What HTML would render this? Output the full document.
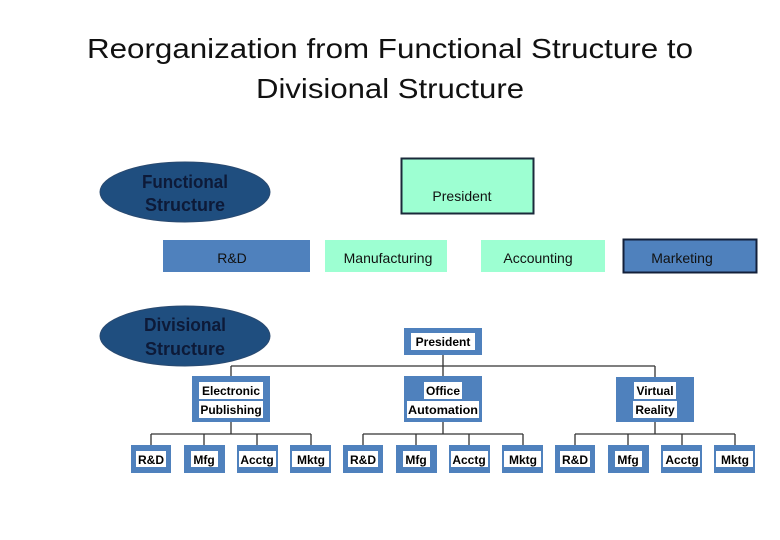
<!DOCTYPE html>
<html><head><meta charset="utf-8"><style>
html,body{margin:0;padding:0;background:#fff;width:780px;height:540px;overflow:hidden}
</style></head><body>
<svg width="780" height="540" viewBox="0 0 780 540" xmlns="http://www.w3.org/2000/svg">
<g font-family="Liberation Sans, sans-serif">
<text x="390" y="58" font-size="28" text-anchor="middle" textLength="606" lengthAdjust="spacingAndGlyphs" fill="#111">Reorganization from Functional Structure to</text>
<text x="390" y="98" font-size="28" text-anchor="middle" textLength="268" lengthAdjust="spacingAndGlyphs" fill="#111">Divisional Structure</text>

<!-- Functional -->
<ellipse cx="185" cy="192" rx="85" ry="30" fill="#1f4e7f" stroke="#2a4a70"/>
<text x="185" y="188" font-size="18" font-weight="bold" text-anchor="middle" fill="#0d1a38" textLength="86" lengthAdjust="spacingAndGlyphs">Functional</text>
<text x="185" y="211" font-size="18" font-weight="bold" text-anchor="middle" fill="#0d1a38" textLength="80" lengthAdjust="spacingAndGlyphs">Structure</text>
<rect x="401.5" y="158.5" width="132" height="55" fill="#9dffd2" stroke="#1a2a3a" stroke-width="2"/>
<text x="462" y="201" font-size="14" text-anchor="middle" fill="#111">President</text>

<rect x="163" y="240" width="147" height="32" fill="#4f81bd"/>
<text x="232" y="263" font-size="14" text-anchor="middle" fill="#111">R&amp;D</text>
<rect x="325" y="240" width="122" height="32" fill="#9dffd2"/>
<text x="388" y="263" font-size="14" text-anchor="middle" fill="#111">Manufacturing</text>
<rect x="481" y="240" width="124" height="32" fill="#9dffd2"/>
<text x="538" y="263" font-size="14" text-anchor="middle" fill="#111">Accounting</text>
<rect x="623.5" y="239.5" width="133" height="33" fill="#4f81bd" stroke="#13203a" stroke-width="2"/>
<text x="682" y="263" font-size="14" text-anchor="middle" fill="#111">Marketing</text>

<!-- Divisional -->
<ellipse cx="185" cy="336" rx="85" ry="30" fill="#1f4e7f" stroke="#2a4a70"/>
<text x="185" y="331" font-size="18" font-weight="bold" text-anchor="middle" fill="#0d1a38" textLength="82" lengthAdjust="spacingAndGlyphs">Divisional</text>
<text x="185" y="355" font-size="18" font-weight="bold" text-anchor="middle" fill="#0d1a38" textLength="80" lengthAdjust="spacingAndGlyphs">Structure</text>

<g stroke="#333" stroke-width="1.3" fill="none">
<line x1="443" y1="355" x2="443" y2="377"/>
<line x1="231" y1="366" x2="655" y2="366"/>
<line x1="231" y1="366" x2="231" y2="377"/>
<line x1="655" y1="366" x2="655" y2="377"/>
<line x1="231" y1="422" x2="231" y2="434"/>
<line x1="443" y1="422" x2="443" y2="434"/>
<line x1="655" y1="422" x2="655" y2="434"/>
<line x1="151" y1="434" x2="311" y2="434"/>
<line x1="363" y1="434" x2="523" y2="434"/>
<line x1="575" y1="434" x2="735" y2="434"/>
<line x1="151" y1="434" x2="151" y2="445"/><line x1="204" y1="434" x2="204" y2="445"/><line x1="257" y1="434" x2="257" y2="445"/><line x1="311" y1="434" x2="311" y2="445"/>
<line x1="363" y1="434" x2="363" y2="445"/><line x1="416" y1="434" x2="416" y2="445"/><line x1="469" y1="434" x2="469" y2="445"/><line x1="523" y1="434" x2="523" y2="445"/>
<line x1="575" y1="434" x2="575" y2="445"/><line x1="628" y1="434" x2="628" y2="445"/><line x1="682" y1="434" x2="682" y2="445"/><line x1="735" y1="434" x2="735" y2="445"/>
</g>

<g font-size="12" font-weight="bold" text-anchor="middle" fill="#000">
<rect x="404" y="328" width="78" height="27" fill="#4f81bd"/>
<rect x="411" y="333" width="64" height="17" fill="#fff"/>
<text x="443" y="346">President</text>

<rect x="192" y="376" width="78" height="46" fill="#4f81bd"/>
<rect x="199" y="382" width="64" height="17" fill="#fff"/><rect x="199" y="401" width="64" height="17" fill="#fff"/>
<text x="231" y="395">Electronic</text><text x="231" y="414">Publishing</text>

<rect x="404" y="376" width="78" height="46" fill="#4f81bd"/>
<rect x="424" y="382" width="38" height="17" fill="#fff"/><rect x="407" y="401" width="72" height="17" fill="#fff"/>
<text x="443" y="395">Office</text><text x="443" y="414" textLength="70" lengthAdjust="spacingAndGlyphs">Automation</text>

<rect x="616" y="377" width="78" height="45" fill="#4f81bd"/>
<rect x="634" y="382" width="42" height="17" fill="#fff"/><rect x="633" y="401" width="44" height="17" fill="#fff"/>
<text x="655" y="395">Virtual</text><text x="655" y="414">Reality</text>
</g>

<g font-size="12" font-weight="bold" text-anchor="middle" fill="#000">
<!-- sub boxes -->
<rect x="131" y="445" width="40" height="28" fill="#4f81bd"/><rect x="136" y="451" width="30" height="16" fill="#fff"/><text x="151" y="464">R&amp;D</text>
<rect x="184" y="445" width="41" height="28" fill="#4f81bd"/><rect x="191" y="451" width="27" height="16" fill="#fff"/><text x="204" y="464">Mfg</text>
<rect x="237" y="445" width="41" height="28" fill="#4f81bd"/><rect x="239" y="451" width="37" height="16" fill="#fff"/><text x="257" y="464">Acctg</text>
<rect x="290" y="445" width="41" height="28" fill="#4f81bd"/><rect x="292" y="451" width="37" height="16" fill="#fff"/><text x="311" y="464">Mktg</text>

<rect x="343" y="445" width="40" height="28" fill="#4f81bd"/><rect x="348" y="451" width="30" height="16" fill="#fff"/><text x="363" y="464">R&amp;D</text>
<rect x="396" y="445" width="41" height="28" fill="#4f81bd"/><rect x="403" y="451" width="27" height="16" fill="#fff"/><text x="416" y="464">Mfg</text>
<rect x="449" y="445" width="41" height="28" fill="#4f81bd"/><rect x="451" y="451" width="37" height="16" fill="#fff"/><text x="469" y="464">Acctg</text>
<rect x="502" y="445" width="41" height="28" fill="#4f81bd"/><rect x="504" y="451" width="37" height="16" fill="#fff"/><text x="523" y="464">Mktg</text>

<rect x="555" y="445" width="40" height="28" fill="#4f81bd"/><rect x="560" y="451" width="30" height="16" fill="#fff"/><text x="575" y="464">R&amp;D</text>
<rect x="608" y="445" width="41" height="28" fill="#4f81bd"/><rect x="615" y="451" width="27" height="16" fill="#fff"/><text x="628" y="464">Mfg</text>
<rect x="661" y="445" width="41" height="28" fill="#4f81bd"/><rect x="663" y="451" width="37" height="16" fill="#fff"/><text x="682" y="464">Acctg</text>
<rect x="714" y="445" width="41" height="28" fill="#4f81bd"/><rect x="716" y="451" width="37" height="16" fill="#fff"/><text x="735" y="464">Mktg</text>
</g>
</g>
</svg>
</body></html>
